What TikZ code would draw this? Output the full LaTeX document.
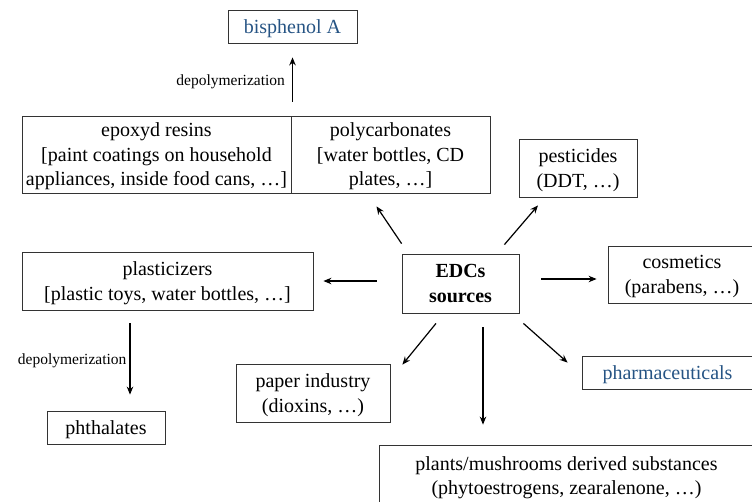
\documentclass[tikz,border=0pt]{standalone}
\usepackage{fontspec}
\setmainfont{Liberation Serif}
\usepackage{tikz}
\usetikzlibrary{arrows.meta, calc}
\definecolor{chemblue}{RGB}{38,84,132}

\begin{document}
\begin{tikzpicture}[x=1pt, y=-1pt,
  box/.style={draw=black!80, line width=0.8pt, inner sep=0pt, align=center,
    text depth=0pt, font=\fontsize{20}{24.5}\selectfont},
  arr/.style={line width=1.2pt, -{Stealth[length=8pt, width=6.5pt]}},
  lab/.style={font=\fontsize{15.5}{18}\selectfont, inner sep=3pt}]
  \useasboundingbox (0,0) rectangle (752,501);
  \clip (0,0) rectangle (752,501);
  \node[box, minimum width=129pt, minimum height=33pt, text=chemblue] (bpa) at (292.5,26.5) {bisphenol A};
  \node[box, minimum width=269pt, minimum height=77pt] (epoxy) at (156.5,154.5)
    {epoxyd resins\\{[}paint coatings on household\\appliances, inside food cans, …]};
  \node[box, minimum width=199pt, minimum height=77pt] (poly) at (390.5,154.5)
    {polycarbonates\\{[}water bottles, CD\\plates, …]};
  \node[box, minimum width=118pt, minimum height=58pt] (pest) at (578,168) {pesticides\\(DDT, …)};
  \node[box, minimum width=117pt, minimum height=59pt, font=\fontsize{20}{24.5}\selectfont\bfseries] (edc) at (460.5,283.5) {EDCs\\sources};
  \node[box, minimum width=148pt, minimum height=57pt] (cosm) at (682,274.5) {cosmetics\\(parabens, …)};
  \node[box, minimum width=171pt, minimum height=33pt, text=chemblue] (pharma) at (667.5,372.5) {pharmaceuticals};
  \node[box, minimum width=375pt, minimum height=61pt] (plants) at (566.5,475.5)
    {plants/mushrooms derived substances\\(phytoestrogens, zearalenone, …)};
  \node[box, minimum width=291pt, minimum height=58pt] (plast) at (167.5,281)
    {plasticizers\\{[}plastic toys, water bottles, …]};
  \node[box, minimum width=118pt, minimum height=33pt] (phth) at (106,427.5) {phthalates};
  \node[box, minimum width=154pt, minimum height=58pt] (paper) at (313,393) {paper industry\\(dioxins, …)};

  % depolymerization steps
  \draw[arr, shorten <=14pt, shorten >=14pt] (bpa.south |- poly.north) -- (bpa.south)
    node[midway, left, lab, xshift=-4pt, yshift=-2pt]{depolymerization};
  \coordinate (q) at ([xshift=-37.5pt]plast.south);
  \draw[arr, shorten <=13pt, shorten >=16pt] (q) -- (q |- phth.north)
    node[midway, left, lab]{depolymerization};

  % arrows out of the EDCs box
  \draw[arr] ([yshift=10pt]edc.north west) -- ([xshift=-14pt, yshift=-13pt]poly.south);
  \draw[arr] ([xshift=-15pt, yshift=9pt]edc.north east) -- ([xshift=-40pt, yshift=-8pt]pest.south);
  \draw[arr, shorten <=25pt, shorten >=10pt] (edc.west |- plast.east) -- (plast.east);
  \draw[arr, shorten <=22pt, shorten >=11pt] ([yshift=4.5pt]edc.east) -- ([yshift=-4.5pt]cosm.west);
  \draw[arr] ([xshift=4pt, yshift=-10pt]edc.south east) -- ([xshift=-14pt, yshift=-7pt]pharma.north west);
  \draw[arr] ([xshift=-24.5pt, yshift=-10pt]edc.south) -- ([xshift=12pt, yshift=-1pt]paper.north east);
  \coordinate (p) at ([xshift=22.5pt]edc.south);
  \draw[arr, shorten <=14pt, shorten >=20pt] (p) -- (p |- plants.north);
\end{tikzpicture}
\end{document}
